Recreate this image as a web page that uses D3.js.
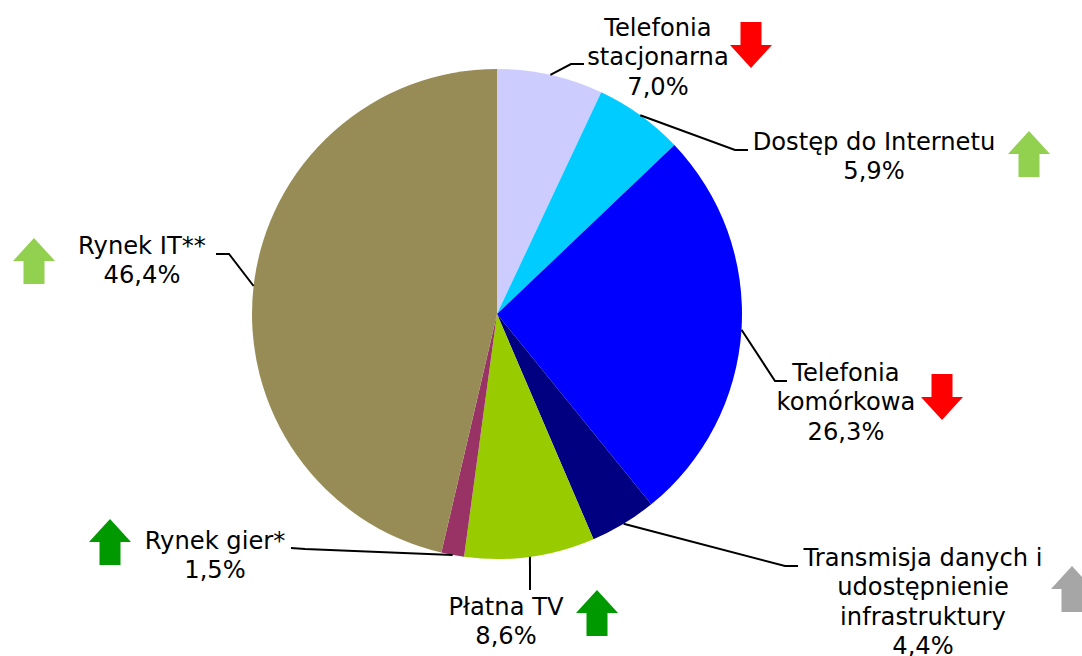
<!DOCTYPE html>
<html lang="pl">
	<head>
		<meta charset="UTF-8" />
		<title>Struktura rynku</title>
		<script src="https://d3js.org/d3.v7.min.js"></script>
		<style>
			html,
			body {
				margin: 0;
				background: white;
			}
			svg {
				display: block;
				font: 24.2px 'DejaVu Sans', sans-serif;
			}
			.leader {
				fill: none;
				stroke: black;
				stroke-width: 2px;
			}
		</style>
	</head>
	<body>
		<svg id="chart" width="1082" height="656"></svg>
		<script type="module">
			const categories = [
				['Telefonia', 'stacjonarna'],
				['Dostęp do Internetu'],
				['Telefonia', 'komórkowa'],
				['Transmisja danych i', 'udostępnienie', 'infrastruktury'],
				['Płatna TV'],
				['Rynek gier*'],
				['Rynek IT**'],
			];
			const shares = [7.0, 5.9, 26.3, 4.4, 8.6, 1.5, 46.4];
			const sliceColors = [
				'#ccccff',
				'#00ccff',
				'#0000ff',
				'#000080',
				'#99cc00',
				'#993366',
				'#978c55',
			];
			// trend of each segment, +1 up, -1 down
			const trends = [-1, 1, -1, 1, 1, 1, 1];
			const arrowColors = [
				'#ff0000',
				'#92d050',
				'#ff0000',
				'#a6a6a6',
				'#009900',
				'#009900',
				'#92d050',
			];

			// label placement, same order as categories
			const labelPos = [
				{ x: 658, y: 36 },
				{ x: 874, y: 150 },
				{ x: 846, y: 381 },
				{ x: 923, y: 566 },
				{ x: 506, y: 615 },
				{ x: 215, y: 549 },
				{ x: 142, y: 254 },
			];
			const leaderPos = [
				[[571, 64], [584, 64]],
				[[735, 150], [748, 150]],
				[[775, 381], [787, 381]],
				[[785, 566], [798, 566]],
				[[530, 590]],
				[[305, 549], [291, 548]],
				[[229, 254], [216, 254]],
			];
			const arrowPos = [
				{ x: 751, y: 22 },
				{ x: 1029, y: 131 },
				{ x: 942, y: 374 },
				{ x: 1072, y: 566 },
				{ x: 597, y: 590 },
				{ x: 110, y: 519 },
				{ x: 34, y: 238 },
			];

			const center = { x: 497, y: 314 };
			const radius = 245;
			const lineHeight = 29.3;

			const svg = d3.select('#chart');

			const pie = d3.pie().sort(null);
			const arcs = pie(shares);
			const arc = d3.arc().innerRadius(0).outerRadius(radius);

			svg
				.append('g')
				.attr('transform', `translate(${center.x},${center.y})`)
				.selectAll('path')
				.data(arcs)
				.enter()
				.append('path')
				.attr('d', arc)
				.attr('fill', (d, i) => sliceColors[i]);

			// leader starts on the rim, at the middle of the slice
			const rimPoint = (d) => {
				const angle = (d.startAngle + d.endAngle) / 2;
				return [
					center.x + radius * Math.sin(angle),
					center.y - radius * Math.cos(angle),
				];
			};

			svg
				.selectAll('path.leader')
				.data(arcs)
				.enter()
				.append('path')
				.attr('class', 'leader')
				.attr('d', (d, i) => d3.line()([rimPoint(d), ...leaderPos[i]]));

			const labels = svg
				.selectAll('text.label')
				.data(categories)
				.enter()
				.append('text')
				.attr('class', 'label')
				.attr('text-anchor', 'middle')
				.attr('fill', 'black');

			labels.each(function (lines, i) {
				const rows = [...lines, shares[i].toFixed(1).replace('.', ',') + '%'];
				d3.select(this)
					.selectAll('tspan')
					.data(rows)
					.enter()
					.append('tspan')
					.attr('x', labelPos[i].x)
					.attr('y', (_, j) => labelPos[i].y + j * lineHeight)
					.text((t) => t);
			});

			// block arrow, 42 wide and 46 tall, pointing up around its center
			const arrowShape = [
				[0, -23],
				[21, 0],
				[10.5, 0],
				[10.5, 23],
				[-10.5, 23],
				[-10.5, 0],
				[-21, 0],
			];
			const arrowPath = d3.line().curve(d3.curveLinearClosed)(arrowShape);

			svg
				.selectAll('path.arrow')
				.data(trends)
				.enter()
				.append('path')
				.attr('class', 'arrow')
				.attr('d', arrowPath)
				.attr('fill', (d, i) => arrowColors[i])
				.attr(
					'transform',
					(d, i) =>
						`translate(${arrowPos[i].x},${arrowPos[i].y + 23}) scale(1,${d})`,
				);
		</script>
	</body>
</html>
